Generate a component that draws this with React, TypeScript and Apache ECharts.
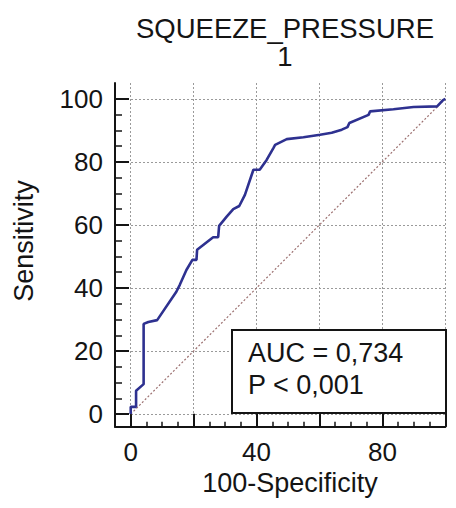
import React, { useEffect, useRef } from "react";
import * as echarts from "echarts";

// ROC curve points: 100-Specificity (x) and Sensitivity (y)
const fpr = [0, 0, 1.7, 1.7, 4.1, 4.1, 5.6, 8.4, 14.5, 15.6, 17.7, 19.6, 20.9, 21.1, 26.2, 27.8, 28.1, 30.5, 32.6, 34.5, 36.3, 39.0, 41.0, 43.2, 45.3, 45.9, 49.6, 54.9, 60.2, 63.9, 67.1, 68.9, 69.5, 75.6, 76.1, 83.5, 89.9, 97.4, 99.2, 100];
const tpr = [0, 2.3, 2.3, 7.4, 9.5, 28.6, 29.2, 29.8, 38.8, 41.0, 45.7, 48.9, 48.9, 52.1, 56.1, 56.1, 59.7, 62.6, 65.0, 66.0, 69.5, 77.5, 77.5, 80.6, 84.3, 85.4, 87.2, 87.8, 88.6, 89.2, 90.2, 91.0, 92.3, 94.9, 96.0, 96.7, 97.4, 97.6, 99.5, 100];
const diagonalX = [0, 100];
const diagonalY = [0, 100];

const majorTicks = [0, 20, 40, 60, 80, 100];
const minorTicks = [0, 5, 10, 15, 20, 25, 30, 35, 40, 45, 50, 55, 60, 65, 70, 75, 80, 85, 90, 95, 100];
const xLabelValues = [0, 40, 80];
const yLabelValues = [0, 20, 40, 60, 80, 100];

const titleLines = ["SQUEEZE_PRESSURE", "1"];
const xAxisName = "100-Specificity";
const yAxisName = "Sensitivity";
const statLines = ["AUC = 0,734", "P < 0,001"];

export default function App() {
  const ref = useRef<HTMLDivElement>(null);
  useEffect(() => {
    const chart = echarts.init(ref.current!, null, { renderer: "svg" });
    const font = "'Liberation Sans', Arial, sans-serif";
    const ink = "#141414";
    const gridLine = { show: true, lineStyle: { color: "#9a9a9a", width: 1, type: [2, 2] as any } };
    chart.setOption({
      animation: false,
      backgroundColor: "#ffffff",
      grid: { left: 115, right: 10.7, top: 83, bottom: 81.3, containLabel: false },
      xAxis: [
        {
          type: "value", min: -5, max: 100, position: "bottom",
          axisLine: { show: true, onZero: false, lineStyle: { color: ink, width: 2 } },
          axisTick: { show: true, inside: true, length: 13, customValues: majorTicks, lineStyle: { color: ink, width: 2 } },
          axisLabel: { show: true, customValues: xLabelValues, margin: 12, fontSize: 26, color: ink, fontFamily: font },
          splitLine: gridLine,
        },
        {
          type: "value", min: -5, max: 100, position: "bottom",
          axisLine: { show: false, onZero: false },
          axisTick: { show: true, inside: true, length: 5, customValues: minorTicks, lineStyle: { color: ink, width: 1.5 } },
          axisLabel: { show: false },
          splitLine: { show: false },
        },
      ],
      yAxis: [
        {
          type: "value", min: -4, max: 105, position: "left",
          axisLine: { show: true, onZero: false, lineStyle: { color: ink, width: 2 } },
          axisTick: { show: true, inside: true, length: 14, customValues: majorTicks, lineStyle: { color: ink, width: 2 } },
          axisLabel: { show: true, customValues: yLabelValues, margin: 12, fontSize: 26, color: ink, fontFamily: font },
          splitLine: gridLine,
        },
        {
          type: "value", min: -4, max: 105, position: "left",
          axisLine: { show: false, onZero: false },
          axisTick: { show: true, inside: true, length: 7, customValues: minorTicks, lineStyle: { color: ink, width: 1.5 } },
          axisLabel: { show: false },
          splitLine: { show: false },
        },
      ],
      series: [
        {
          type: "line",
          xAxisIndex: 0, yAxisIndex: 0,
          data: diagonalX.map((x, i) => [x, diagonalY[i]]),
          showSymbol: false,
          lineStyle: { color: "#9b6f6f", width: 1.2, type: [2, 2] as any },
          z: 2,
        },
        {
          type: "line",
          xAxisIndex: 0, yAxisIndex: 0,
          data: fpr.map((x, i) => [x, tpr[i]]),
          showSymbol: false,
          lineStyle: { color: "#2e3190", width: 2.6 },
          z: 3,
        },
      ],
      graphic: [
        {
          type: "text", x: 285, y: 14, z: 10,
          style: { text: titleLines.join("\n"), fontFamily: font, fontSize: 27.5, lineHeight: 28, fill: ink, textAlign: "center", textVerticalAlign: "top" },
        },
        {
          type: "text", x: 23.5, y: 241, rotation: Math.PI / 2, z: 10,
          style: { text: yAxisName, fontFamily: font, fontSize: 27, fill: ink, textAlign: "center", textVerticalAlign: "middle" },
        },
        {
          type: "text", x: 290, y: 483, z: 10,
          style: { text: xAxisName, fontFamily: font, fontSize: 27, fill: ink, textAlign: "center", textVerticalAlign: "middle" },
        },
        {
          type: "rect", z: 20,
          shape: { x: 232, y: 330, width: 214, height: 83 },
          style: { fill: "#ffffff", stroke: ink, lineWidth: 2 },
        },
        {
          type: "text", x: 248, y: 353, z: 21,
          style: { text: statLines[0], fontFamily: font, fontSize: 27, fill: ink, textAlign: "left", textVerticalAlign: "middle" },
        },
        {
          type: "text", x: 248, y: 385, z: 21,
          style: { text: statLines[1], fontFamily: font, fontSize: 27, fill: ink, textAlign: "left", textVerticalAlign: "middle" },
        },
      ],
    });
    return () => chart.dispose();
  }, []);
  return <div ref={ref} style={{ position: "fixed", left: 0, top: 0, width: 456, height: 508 }} />;
}
